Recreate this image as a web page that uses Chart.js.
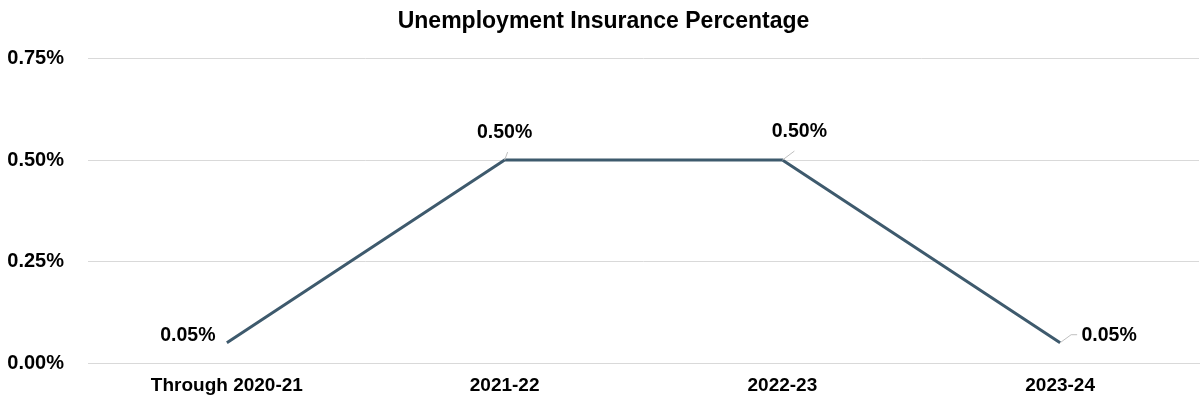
<!DOCTYPE html>
<html>
<head>
<meta charset="utf-8">
<script src="https://cdn.jsdelivr.net/npm/chart.js@4"></script>
<style>
  html, body { margin: 0; padding: 0; background: #fff; }
  #wrap { width: 1203px; height: 406px; }
</style>
</head>
<body>
<div id="wrap"><canvas id="uiChart"></canvas></div>
<script>
const categories = ['Through 2020-21', '2021-22', '2022-23', '2023-24'];
const uiPercent = [0.05, 0.5, 0.5, 0.05];
const yTicks = [0, 0.25, 0.5, 0.75];

const fontFamily = '"Liberation Sans Narrow", "Arial Narrow", "Liberation Sans", Arial, sans-serif';

// labels with small leader lines, offsets in pixels from the point
const labelOffsets = [
    { dx: -39, dy: -7, line: null },
    { dx: 0, dy: -27, line: [[0, 0], [3, -8]] },
    { dx: 17, dy: -28, line: [[0, 0], [12, -9]] },
    { dx: 49, dy: -7, line: [[0, 0], [11, -8], [17, -8]] }
];

const pointLabels = {
    id: 'pointLabels',
    afterDatasetsDraw(chart) {
        const ctx = chart.ctx;
        const meta = chart.getDatasetMeta(0);
        ctx.save();
        meta.data.forEach(function(pt, i) {
            const off = labelOffsets[i];
            if (off.line) {
                ctx.strokeStyle = '#bfbfbf';
                ctx.lineWidth = 1;
                ctx.beginPath();
                off.line.forEach(function(p, j) {
                    if (j === 0) ctx.moveTo(pt.x + p[0], pt.y + p[1]);
                    else ctx.lineTo(pt.x + p[0], pt.y + p[1]);
                });
                ctx.stroke();
            }
            ctx.fillStyle = '#000';
            ctx.font = 'bold 19.5px ' + fontFamily;
            ctx.textAlign = 'center';
            ctx.textBaseline = 'middle';
            ctx.fillText(uiPercent[i].toFixed(2) + '%', pt.x + off.dx, pt.y + off.dy);
        });
        ctx.restore();
    }
};

const ctx = document.getElementById('uiChart').getContext('2d');
new Chart(ctx, {
    type: 'line',
    data: {
        labels: categories,
        datasets: [{
            label: 'Unemployment Insurance',
            data: uiPercent,
            borderColor: '#3e5a6d',
            borderWidth: 3,
            pointRadius: 0,
            tension: 0,
            fill: false
        }]
    },
    options: {
        responsive: true,
        maintainAspectRatio: false,
        animation: false,
        layout: { padding: { left: 8, right: 4, top: 0, bottom: 0 } },
        plugins: {
            legend: { display: false },
            tooltip: { enabled: false },
            title: {
                display: true,
                text: 'Unemployment Insurance Percentage',
                color: '#000',
                font: { family: fontFamily, size: 23, weight: 'bold' },
                padding: { top: 8, bottom: 23 }
            }
        },
        scales: {
            x: {
                offset: true,
                afterFit: function(scale) { scale.height = 43; },
                grid: { display: false, drawTicks: false },
                border: { color: '#d9d9d9' },
                ticks: {
                    color: '#000',
                    padding: 11,
                    maxRotation: 0,
                    font: { family: fontFamily, size: 19, weight: 'bold' }
                }
            },
            y: {
                min: 0,
                max: 0.75,
                afterFit: function(scale) { scale.width = 80; },
                afterBuildTicks: function(scale) {
                    scale.ticks = yTicks.map(function(v) { return { value: v }; });
                },
                grid: { color: '#d9d9d9', drawTicks: false },
                border: { display: false },
                ticks: {
                    color: '#000',
                    padding: 24,
                    font: { family: fontFamily, size: 20, weight: 'bold' },
                    callback: function(v) { return v.toFixed(2) + '%'; }
                }
            }
        }
    },
    plugins: [pointLabels]
});
</script>
</body>
</html>
